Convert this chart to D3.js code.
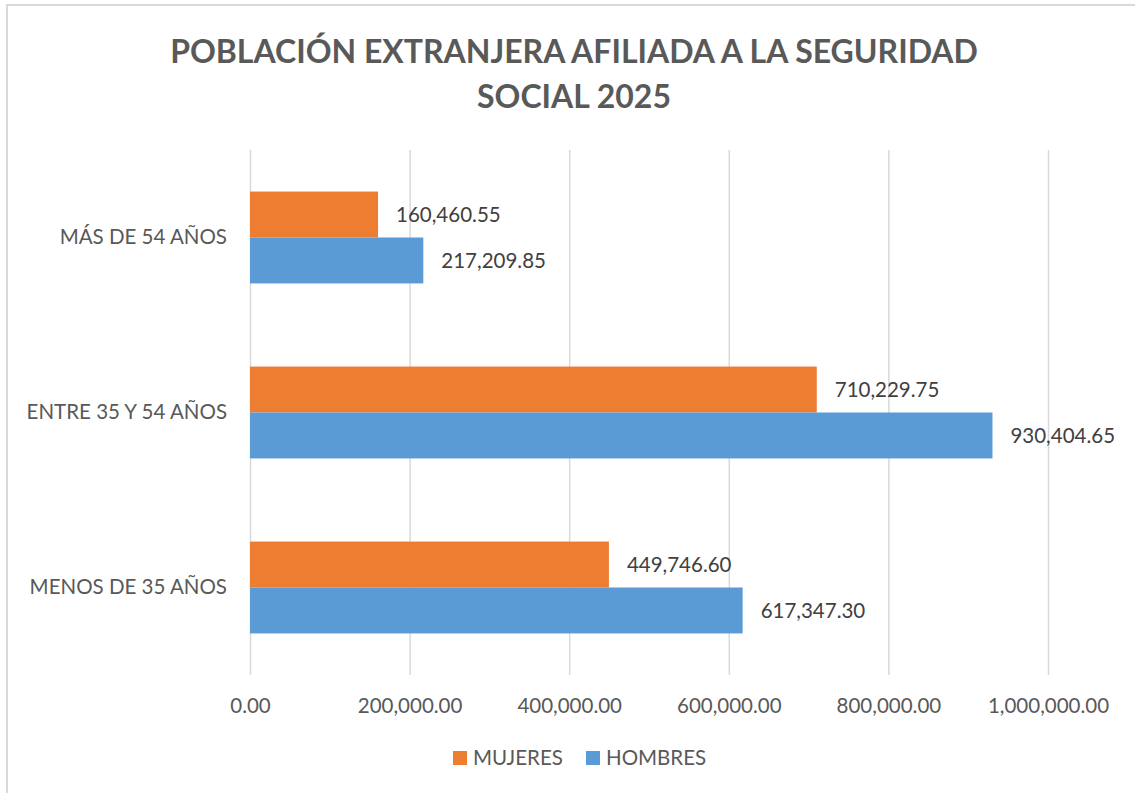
<!DOCTYPE html>
<html>
<head>
<meta charset="utf-8">
<script src="https://cdn.jsdelivr.net/npm/d3@7"></script>
<style>
  body { margin: 0; background: #fff; }
  svg text { font-family: Lato, "Open Sans", sans-serif; }
</style>
</head>
<body>
<div id="chart-area"></div>
<script>
// data
var categories = ["MÁS DE 54 AÑOS", "ENTRE 35 Y 54 AÑOS", "MENOS DE 35 AÑOS"];
var series = ["MUJERES", "HOMBRES"];
var mujeres = [160460.55, 710229.75, 449746.60];
var hombres = [217209.85, 930404.65, 617347.30];
var ticks = [0, 200000, 400000, 600000, 800000, 1000000];
var titleLines = ["POBLACIÓN EXTRANJERA AFILIADA A LA SEGURIDAD", "SOCIAL 2025"];

var colors = {MUJERES: "#ED7D31", HOMBRES: "#5B9BD5"};

var W = 1135, H = 793;
var margin = {top: 150, right: 87, bottom: 118, left: 250};
var width = W - margin.left - margin.right,
    height = H - margin.top - margin.bottom;

var svg = d3.select("#chart-area").append("svg")
    .attr("width", W)
    .attr("height", H);

// chart frame (runs off the right/bottom of the picture)
svg.append("rect")
    .attr("x", 7).attr("y", 5)
    .attr("width", W + 20).attr("height", H + 20)
    .attr("fill", "#fff")
    .attr("stroke", "#d9d9d9")
    .attr("stroke-width", 2);

// title
svg.append("text")
    .attr("x", 574)
    .attr("y", 63)
    .attr("text-anchor", "middle")
    .attr("fill", "#595959")
    .style("font-size", "32px")
    .style("font-weight", "bold")
    .selectAll("tspan")
    .data(titleLines)
    .enter().append("tspan")
    .attr("x", 574)
    .attr("dy", function(d, i) { return i == 0 ? 0 : 45; })
    .text(function(d) { return d; });

var g = svg.append("g")
    .attr("transform", "translate(" + margin.left + "," + margin.top + ")");

var x = d3.scaleLinear()
    .domain([0, 1000000])
    .range([0, width]);

var y = d3.scaleBand()
    .domain(categories)
    .range([0, height])
    .paddingInner(0.475)
    .paddingOuter(0.2375);

var ySub = d3.scaleBand()
    .domain(series)
    .range([0, y.bandwidth()]);

// gridlines + tick labels
var xAxis = g.append("g")
    .attr("class", "x-axis")
    .attr("transform", "translate(0," + height + ")")
    .call(d3.axisBottom(x)
        .tickValues(ticks)
        .tickSize(height)
        .tickSizeOuter(0)
        .tickFormat(d3.format(",.2f")));

xAxis.select(".domain").remove();
xAxis.selectAll(".tick line")
    .attr("y1", 0)
    .attr("y2", -height)
    .attr("stroke", "#d9d9d9")
    .attr("stroke-width", 1.5);
xAxis.selectAll(".tick text")
    .attr("y", 31)
    .attr("dy", "0.32em")
    .attr("fill", "#595959")
    .style("font-size", "20.5px");

// category labels
var yAxis = g.append("g")
    .call(d3.axisLeft(y).tickSize(0).tickPadding(23));
yAxis.select(".domain").remove();
yAxis.selectAll(".tick text")
    .attr("fill", "#595959")
    .style("font-size", "20.5px");

// bars
var rows = categories.map(function(c, i) {
    return {cat: c, values: [
        {key: "MUJERES", value: mujeres[i]},
        {key: "HOMBRES", value: hombres[i]}
    ]};
});

var group = g.selectAll(".group")
    .data(rows)
    .enter().append("g")
    .attr("class", "group")
    .attr("transform", function(d) { return "translate(0," + y(d.cat) + ")"; });

group.selectAll("rect")
    .data(function(d) { return d.values; })
    .enter().append("rect")
    .attr("x", 0)
    .attr("y", function(d) { return ySub(d.key); })
    .attr("width", function(d) { return x(d.value); })
    .attr("height", ySub.bandwidth())
    .attr("fill", function(d) { return colors[d.key]; });

group.selectAll(".bar-label")
    .data(function(d) { return d.values; })
    .enter().append("text")
    .attr("class", "bar-label")
    .attr("x", function(d) { return x(d.value) + 18; })
    .attr("y", function(d) { return ySub(d.key) + ySub.bandwidth() / 2; })
    .attr("dy", "0.35em")
    .attr("fill", "#404040")
    .style("font-size", "20.5px")
    .text(function(d) { return d3.format(",.2f")(d.value); });

// legend
var legend = svg.append("g")
    .attr("transform", "translate(453,758)");

var item = legend.selectAll(".legend-item")
    .data(series)
    .enter().append("g")
    .attr("class", "legend-item")
    .attr("transform", function(d, i) { return "translate(" + (i * 133) + ",0)"; });

item.append("rect")
    .attr("x", 0)
    .attr("y", -7)
    .attr("width", 14)
    .attr("height", 14)
    .attr("fill", function(d) { return colors[d]; });

item.append("text")
    .attr("x", 20)
    .attr("y", 0)
    .attr("dy", "0.35em")
    .attr("fill", "#595959")
    .style("font-size", "20.5px")
    .text(function(d) { return d; });
</script>
</body>
</html>
